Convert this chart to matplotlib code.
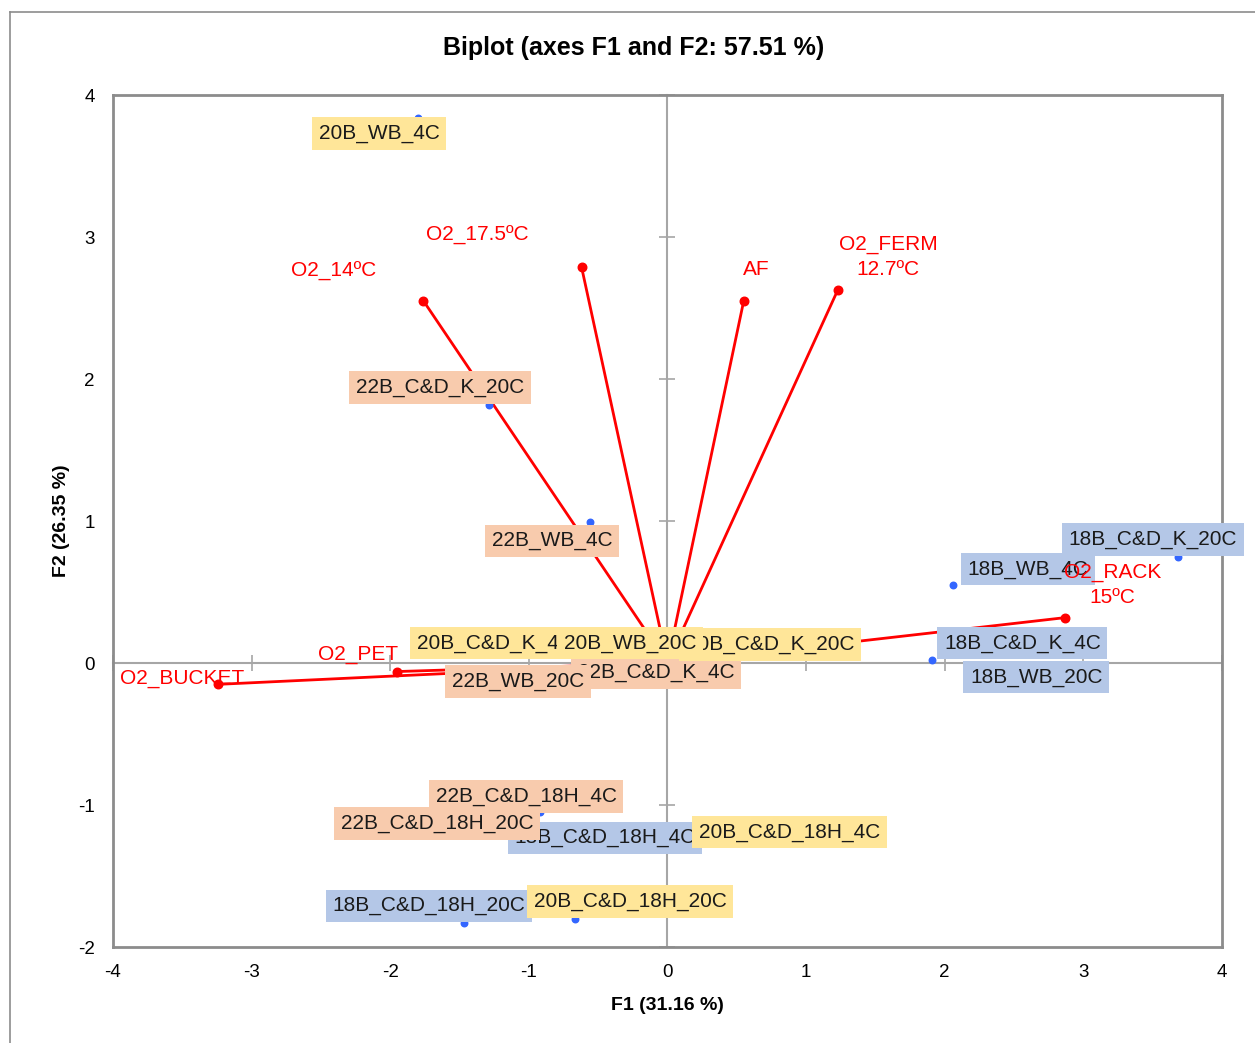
import matplotlib.pyplot as plt
from matplotlib.lines import Line2D

############################################
# data
############################################
obs_names = ["18B_C&D_K_20C", "18B_WB_4C", "18B_C&D_K_4C", "18B_WB_20C",
             "18B_C&D_18H_4C", "18B_C&D_18H_20C",
             "22B_C&D_K_20C", "22B_WB_4C", "22B_C&D_K_4C", "22B_WB_20C",
             "22B_C&D_18H_4C", "22B_C&D_18H_20C",
             "20B_WB_4C", "20B_C&D_K_4C", "20B_C&D_K_20C", "20B_WB_20C",
             "20B_C&D_18H_4C", "20B_C&D_18H_20C"]
obs_f1 = [3.68, 2.06, 1.91, 2.62, -0.40, -1.47,
          -1.29, -0.56, -0.05, -1.05, -0.92, -1.60,
          -1.80, -1.20, 0.78, -0.25, 0.85, -0.67]
obs_f2 = [0.75, 0.55, 0.02, -0.12, -1.25, -1.83,
          1.82, 0.99, -0.10, -0.15, -1.05, -1.15,
          3.84, 0.12, 0.12, 0.12, -1.20, -1.80]

var_names = ["O2_14ºC", "O2_17.5ºC", "AF", "O2_FERM\n12.7ºC", "O2_RACK\n15ºC",
             "O2_PET", "O2_BUCKET"]
var_f1 = [-1.76, -0.62, 0.55, 1.23, 2.87, -1.95, -3.24]
var_f2 = [2.55, 2.79, 2.55, 2.63, 0.32, -0.06, -0.15]

title = "Biplot (axes F1 and F2: 57.51 %)"
xlabel = "F1 (31.16 %)"
ylabel = "F2 (26.35 %)"

############################################
# layout / styles
############################################
# label centres for the observations (data units), moved by hand like in the original
obs_label_pos = {
    "18B_C&D_K_20C": (3.50, 0.87), "18B_WB_4C": (2.60, 0.66),
    "18B_C&D_K_4C": (2.56, 0.14), "18B_WB_20C": (2.66, -0.10),
    "18B_C&D_18H_4C": (-0.45, -1.23), "18B_C&D_18H_20C": (-1.72, -1.71),
    "22B_C&D_K_20C": (-1.64, 1.94), "22B_WB_4C": (-0.83, 0.86),
    "22B_C&D_K_4C": (-0.08, -0.07), "22B_WB_20C": (-1.08, -0.13),
    "22B_C&D_18H_4C": (-1.02, -0.94), "22B_C&D_18H_20C": (-1.66, -1.13),
    "20B_WB_4C": (-2.08, 3.73), "20B_C&D_K_4C": (-1.24, 0.14),
    "20B_C&D_K_20C": (0.74, 0.13), "20B_WB_20C": (-0.27, 0.14),
    "20B_C&D_18H_4C": (0.88, -1.19), "20B_C&D_18H_20C": (-0.27, -1.68),
}
var_label_pos = [(-2.41, 2.76), (-1.37, 3.01), (0.64, 2.77), (1.59, 2.86),
                 (3.21, 0.55), (-2.23, 0.06), (-3.50, -0.11)]

box_colors = {"18B": "#B4C7E7", "22B": "#F8CBAD", "20B": "#FFE699"}
RED = "#FF0000"
BLUE = "#3366FF"
GRID = "#A6A6A6"
FONT = "Liberation Sans"

plt.rcParams["font.family"] = [FONT, "DejaVu Sans"]
plt.rcParams["axes.unicode_minus"] = False

fig = plt.figure(figsize=(12.55, 10.43), dpi=100)
ax = fig.add_axes([0.0900, 0.0920, 0.8837, 0.8169])
ax.set_xlim(-4, 4)
ax.set_ylim(-2, 4)
ax.set_xticks(range(-4, 5))
ax.set_yticks(range(-2, 5))
ax.tick_params(length=0, labelsize=13.5, colors="#000000")
ax.tick_params(axis="y", pad=13)
ax.tick_params(axis="x", pad=12)
for s in ax.spines.values():
    s.set_color("#8C8C8C")
    s.set_linewidth(2)

# second axes only for the cross at the origin (with Excel-like tick marks)
ax0 = fig.add_axes(ax.get_position(), frameon=True, sharex=ax, sharey=ax)
ax0.patch.set_visible(False)
ax0.spines["left"].set_position(("data", 0))
ax0.spines["bottom"].set_position(("data", 0))
ax0.spines["right"].set_visible(False)
ax0.spines["top"].set_visible(False)
for k in ("left", "bottom"):
    ax0.spines[k].set_color(GRID)
    ax0.spines[k].set_linewidth(1.5)
ax0.tick_params(direction="inout", length=12, width=1.2, colors=GRID,
                labelleft=False, labelbottom=False)
ax0.set_zorder(0.5)
ax.set_zorder(1)
ax.patch.set_visible(False)

# variable vectors
for i, name in enumerate(var_names):
    ax.plot([0, var_f1[i]], [0, var_f2[i]], color=RED, lw=2, zorder=2)
ax.scatter(var_f1, var_f2, s=38, color=RED, zorder=3)

# observations
ax.scatter(obs_f1, obs_f2, s=22, color=BLUE, zorder=3)
for j, name in enumerate(obs_names):
    lx, ly = obs_label_pos[name]
    ax.text(lx, ly, name, fontsize=15, color="#1A1A1A", ha="center", va="center",
            zorder=4 + j * 0.01,
            bbox=dict(boxstyle="square,pad=0.32", fc=box_colors[name[:3]], ec="none"))

for i, name in enumerate(var_names):
    lx, ly = var_label_pos[i]
    ax.text(lx, ly, name, fontsize=15, color=RED, ha="center", va="center",
            linespacing=1.35, zorder=5)

fig.suptitle(title, fontsize=18, fontweight="bold", x=0.505, y=1 - 48 / 1043, va="center")
ax.set_xlabel(xlabel, fontsize=14, fontweight="bold", labelpad=12)
ax.set_ylabel(ylabel, fontsize=14, fontweight="bold", labelpad=6)

# outer frame of the chart area
fig.add_artist(Line2D([10 / 1255, 1], [1 - 12 / 1043, 1 - 12 / 1043],
                      transform=fig.transFigure, color="#8C8C8C", lw=1.2))
fig.add_artist(Line2D([10 / 1255, 10 / 1255], [0, 1 - 12 / 1043],
                      transform=fig.transFigure, color="#8C8C8C", lw=1.2))

fig.savefig("out.png", dpi=100, facecolor="white")
